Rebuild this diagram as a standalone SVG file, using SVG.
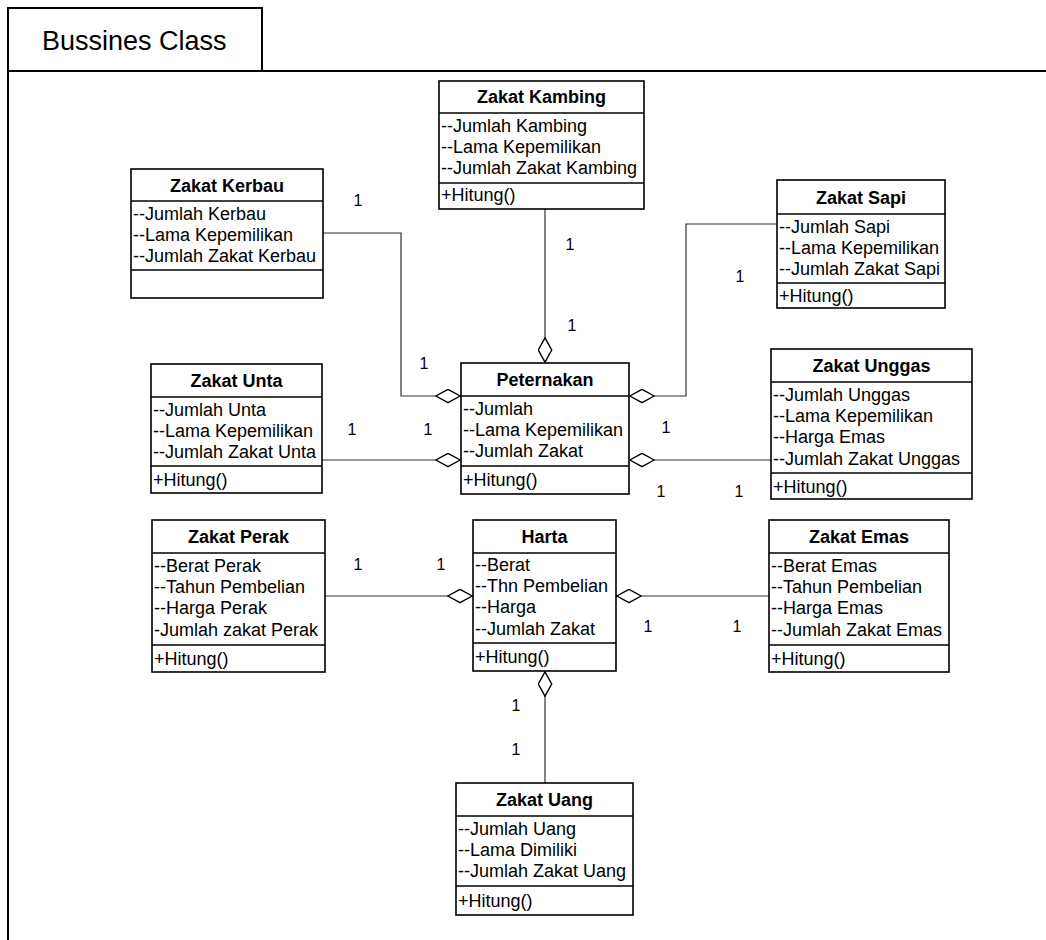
<svg xmlns="http://www.w3.org/2000/svg" width="1046" height="940" viewBox="0 0 1046 940">
  <style>
    .frame { fill: none; stroke: #000; stroke-width: 2; }
    .box { fill: #fff; stroke: #000; stroke-width: 1.6; }
    .sep { stroke: #000; stroke-width: 1.6; }
    .title { font-family: "Liberation Sans", Arial, sans-serif; font-size: 18px; font-weight: bold; text-anchor: middle; fill: #000; }
    .attr { font-family: "Liberation Sans", Arial, sans-serif; font-size: 18px; fill: #000; }
    .mult { font-family: "Liberation Sans", Arial, sans-serif; font-size: 16px; text-anchor: middle; fill: #000; }
    .tab { font-family: "Liberation Sans", Arial, sans-serif; font-size: 27px; fill: #000; }
    .conn { fill: none; stroke: #333; stroke-width: 1.2; marker-end: url(#agg); }
  </style>
  <defs>
    <!-- hollow diamond: UML aggregation end -->
    <marker id="agg" markerUnits="userSpaceOnUse" viewBox="0 0 26 15" refX="26" refY="7.5" markerWidth="26" markerHeight="15" orient="auto">
      <polygon points="0.8,7.5 13,0.8 25.2,7.5 13,14.2" fill="#fff" stroke="#000" stroke-width="1.4"/>
    </marker>
  </defs>

  <rect width="1046" height="940" fill="#fff"/>

  <!-- package frame with tab -->
  <g id="frame">
    <rect class="frame" x="8" y="8" width="254" height="63"/>
    <path class="frame" d="M262,71 H1046 M8,71 V940"/>
    <text class="tab" x="42" y="50">Bussines Class</text>
  </g>

  <!-- associations -->
  <g id="connectors">
    <path class="conn" d="M323,233 H401 V396 H461"/>
    <path class="conn" d="M545,209 V363"/>
    <path class="conn" d="M777,224 H686 V396 H629"/>
    <path class="conn" d="M322,460 H461"/>
    <path class="conn" d="M771,460 H629"/>
    <path class="conn" d="M325,596 H473"/>
    <path class="conn" d="M769,596 H616"/>
    <path class="conn" d="M545,783 V671"/>
  </g>

  <!-- multiplicities -->
  <g id="multiplicities">
    <text class="mult" x="358" y="206">1</text>
    <text class="mult" x="570" y="250">1</text>
    <text class="mult" x="572" y="331">1</text>
    <text class="mult" x="740" y="282">1</text>
    <text class="mult" x="424" y="369">1</text>
    <text class="mult" x="352" y="435">1</text>
    <text class="mult" x="428" y="435">1</text>
    <text class="mult" x="666" y="433">1</text>
    <text class="mult" x="661" y="497">1</text>
    <text class="mult" x="739" y="497">1</text>
    <text class="mult" x="358" y="570">1</text>
    <text class="mult" x="441" y="570">1</text>
    <text class="mult" x="648" y="632">1</text>
    <text class="mult" x="737" y="632">1</text>
    <text class="mult" x="516" y="711">1</text>
    <text class="mult" x="516" y="755">1</text>
  </g>

  <g id="zakat-kambing">
    <rect class="box" x="439" y="81" width="205" height="128"/>
    <line class="sep" x1="439" y1="113" x2="644" y2="113"/>
    <line class="sep" x1="439" y1="183" x2="644" y2="183"/>
    <text class="title" x="541.5" y="103">Zakat Kambing</text>
    <text class="attr" x="441" y="132">--Jumlah Kambing</text>
    <text class="attr" x="441" y="153">--Lama Kepemilikan</text>
    <text class="attr" x="441" y="174">--Jumlah Zakat Kambing</text>
    <text class="attr" x="441" y="201">+Hitung()</text>
  </g>

  <g id="zakat-kerbau">
    <rect class="box" x="131" y="169" width="192" height="129"/>
    <line class="sep" x1="131" y1="201" x2="323" y2="201"/>
    <line class="sep" x1="131" y1="270" x2="323" y2="270"/>
    <text class="title" x="227" y="192">Zakat Kerbau</text>
    <text class="attr" x="133" y="220">--Jumlah Kerbau</text>
    <text class="attr" x="133" y="241">--Lama Kepemilikan</text>
    <text class="attr" x="133" y="262">--Jumlah Zakat Kerbau</text>
  </g>

  <g id="zakat-sapi">
    <rect class="box" x="777" y="180" width="168" height="128"/>
    <line class="sep" x1="777" y1="214" x2="945" y2="214"/>
    <line class="sep" x1="777" y1="283" x2="945" y2="283"/>
    <text class="title" x="861" y="204">Zakat Sapi</text>
    <text class="attr" x="779" y="233">--Jumlah Sapi</text>
    <text class="attr" x="779" y="254">--Lama Kepemilikan</text>
    <text class="attr" x="779" y="275">--Jumlah Zakat Sapi</text>
    <text class="attr" x="779" y="302">+Hitung()</text>
  </g>

  <g id="peternakan">
    <rect class="box" x="461" y="363" width="168" height="131"/>
    <line class="sep" x1="461" y1="396" x2="629" y2="396"/>
    <line class="sep" x1="461" y1="466" x2="629" y2="466"/>
    <text class="title" x="545" y="386">Peternakan</text>
    <text class="attr" x="463" y="415">--Jumlah</text>
    <text class="attr" x="463" y="436">--Lama Kepemilikan</text>
    <text class="attr" x="463" y="457">--Jumlah Zakat</text>
    <text class="attr" x="463" y="486">+Hitung()</text>
  </g>

  <g id="zakat-unta">
    <rect class="box" x="151" y="364" width="171" height="129"/>
    <line class="sep" x1="151" y1="397" x2="322" y2="397"/>
    <line class="sep" x1="151" y1="466" x2="322" y2="466"/>
    <text class="title" x="236.5" y="387">Zakat Unta</text>
    <text class="attr" x="153" y="416">--Jumlah Unta</text>
    <text class="attr" x="153" y="437">--Lama Kepemilikan</text>
    <text class="attr" x="153" y="458">--Jumlah Zakat Unta</text>
    <text class="attr" x="153" y="486">+Hitung()</text>
  </g>

  <g id="zakat-unggas">
    <rect class="box" x="771" y="349" width="201" height="150"/>
    <line class="sep" x1="771" y1="382" x2="972" y2="382"/>
    <line class="sep" x1="771" y1="473" x2="972" y2="473"/>
    <text class="title" x="871.5" y="372">Zakat Unggas</text>
    <text class="attr" x="773" y="401">--Jumlah Unggas</text>
    <text class="attr" x="773" y="422">--Lama Kepemilikan</text>
    <text class="attr" x="773" y="443">--Harga Emas</text>
    <text class="attr" x="773" y="464.5">--Jumlah Zakat Unggas</text>
    <text class="attr" x="773" y="493">+Hitung()</text>
  </g>

  <g id="harta">
    <rect class="box" x="473" y="520" width="143" height="151"/>
    <line class="sep" x1="473" y1="553" x2="616" y2="553"/>
    <line class="sep" x1="473" y1="643" x2="616" y2="643"/>
    <text class="title" x="544.5" y="543">Harta</text>
    <text class="attr" x="475" y="571">--Berat</text>
    <text class="attr" x="475" y="592">--Thn Pembelian</text>
    <text class="attr" x="475" y="613">--Harga</text>
    <text class="attr" x="475" y="634.5">--Jumlah Zakat</text>
    <text class="attr" x="475" y="663">+Hitung()</text>
  </g>

  <g id="zakat-perak">
    <rect class="box" x="152" y="520" width="173" height="152"/>
    <line class="sep" x1="152" y1="553" x2="325" y2="553"/>
    <line class="sep" x1="152" y1="645" x2="325" y2="645"/>
    <text class="title" x="238.5" y="543">Zakat Perak</text>
    <text class="attr" x="154" y="572">--Berat Perak</text>
    <text class="attr" x="154" y="593">--Tahun Pembelian</text>
    <text class="attr" x="154" y="614">--Harga Perak</text>
    <text class="attr" x="154" y="636">-Jumlah zakat Perak</text>
    <text class="attr" x="154" y="665">+Hitung()</text>
  </g>

  <g id="zakat-emas">
    <rect class="box" x="769" y="520" width="180" height="152"/>
    <line class="sep" x1="769" y1="553" x2="949" y2="553"/>
    <line class="sep" x1="769" y1="645" x2="949" y2="645"/>
    <text class="title" x="859" y="543">Zakat Emas</text>
    <text class="attr" x="771" y="572">--Berat Emas</text>
    <text class="attr" x="771" y="593">--Tahun Pembelian</text>
    <text class="attr" x="771" y="614">--Harga Emas</text>
    <text class="attr" x="771" y="636">--Jumlah Zakat Emas</text>
    <text class="attr" x="771" y="665">+Hitung()</text>
  </g>

  <g id="zakat-uang">
    <rect class="box" x="456" y="783" width="177" height="132"/>
    <line class="sep" x1="456" y1="816" x2="633" y2="816"/>
    <line class="sep" x1="456" y1="886" x2="633" y2="886"/>
    <text class="title" x="544.5" y="806">Zakat Uang</text>
    <text class="attr" x="458" y="835">--Jumlah Uang</text>
    <text class="attr" x="458" y="856">--Lama Dimiliki</text>
    <text class="attr" x="458" y="877">--Jumlah Zakat Uang</text>
    <text class="attr" x="458" y="907">+Hitung()</text>
  </g>
</svg>
